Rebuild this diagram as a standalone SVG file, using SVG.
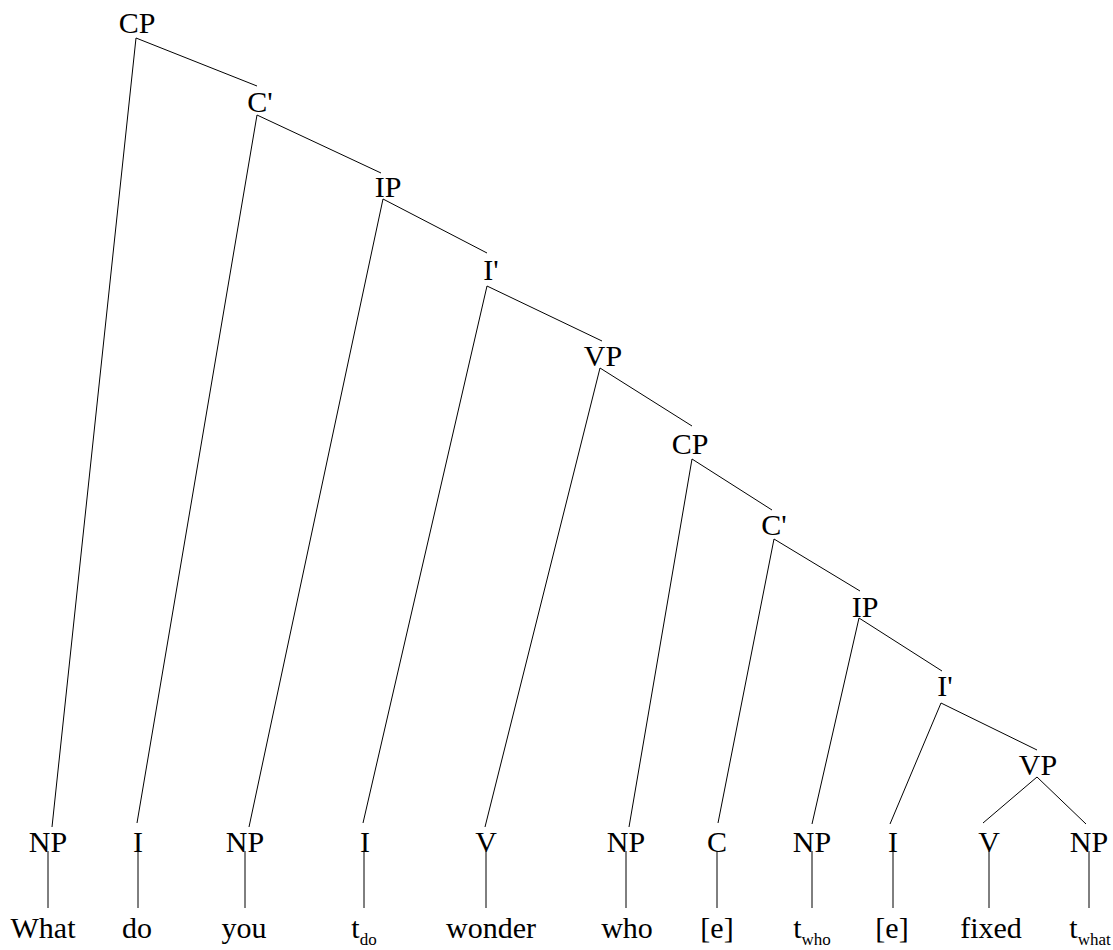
<svg xmlns="http://www.w3.org/2000/svg" width="1113" height="950" viewBox="0 0 1113 950">
<style>
.t{font-family:'Liberation Serif','DejaVu Serif',serif;font-size:30px;fill:#000;text-anchor:middle}
.sub{font-size:17px}
line{stroke:#000;stroke-width:1}
</style>
<rect width="1113" height="950" fill="#fff"/>
<g id="connectors">
<line x1="136" y1="38" x2="52" y2="827"/>
<line x1="136" y1="38" x2="257" y2="86"/>
<line x1="257" y1="115" x2="137" y2="823"/>
<line x1="257" y1="115" x2="381" y2="173"/>
<line x1="383" y1="199" x2="249" y2="827"/>
<line x1="383" y1="199" x2="487" y2="253"/>
<line x1="487" y1="286" x2="363" y2="823"/>
<line x1="487" y1="286" x2="602" y2="341"/>
<line x1="600" y1="368" x2="485" y2="827"/>
<line x1="600" y1="368" x2="692" y2="426"/>
<line x1="692" y1="459" x2="629" y2="827"/>
<line x1="692" y1="459" x2="772" y2="510"/>
<line x1="774" y1="539" x2="718" y2="823"/>
<line x1="774" y1="539" x2="860" y2="591"/>
<line x1="859" y1="618" x2="812" y2="824"/>
<line x1="859" y1="618" x2="942" y2="671"/>
<line x1="941" y1="703" x2="890" y2="824"/>
<line x1="941" y1="703" x2="1037" y2="750"/>
<line x1="1037" y1="777" x2="983" y2="823"/>
<line x1="1037" y1="777" x2="1086" y2="824"/>
<line x1="48" y1="851" x2="48" y2="908"/>
<line x1="138" y1="851" x2="138" y2="908"/>
<line x1="245" y1="851" x2="245" y2="908"/>
<line x1="364" y1="851" x2="364" y2="908"/>
<line x1="486" y1="851" x2="486" y2="908"/>
<line x1="626" y1="851" x2="626" y2="908"/>
<line x1="717" y1="851" x2="717" y2="908"/>
<line x1="812" y1="851" x2="812" y2="908"/>
<line x1="893" y1="851" x2="893" y2="908"/>
<line x1="989" y1="851" x2="989" y2="908"/>
<line x1="1089" y1="851" x2="1089" y2="908"/>
</g>
<g font-family="Liberation Serif, serif" font-size="30" text-anchor="middle" fill="#000">
<g id="n-cp1"><text class="t" x="137" y="33">CP</text></g>
<g id="n-cbar1"><text class="t" x="260" y="112">C'</text></g>
<g id="n-ip1"><text class="t" x="388" y="197">IP</text></g>
<g id="n-ibar1"><text class="t" x="491" y="280">I'</text></g>
<g id="n-vp1"><text class="t" x="603" y="366">VP</text></g>
<g id="n-cp2"><text class="t" x="690" y="454">CP</text></g>
<g id="n-cbar2"><text class="t" x="774" y="535">C'</text></g>
<g id="n-ip2"><text class="t" x="865" y="617">IP</text></g>
<g id="n-ibar2"><text class="t" x="945" y="696">I'</text></g>
<g id="n-vp2"><text class="t" x="1038" y="775">VP</text></g>
<g id="n-np1"><text class="t" x="48" y="852">NP</text></g>
<g id="n-i1"><text class="t" x="138" y="852">I</text></g>
<g id="n-np2"><text class="t" x="245" y="852">NP</text></g>
<g id="n-i2"><text class="t" x="365" y="852">I</text></g>
<g id="n-v1"><text class="t" x="486" y="852">V</text></g>
<g id="n-np3"><text class="t" x="626" y="852">NP</text></g>
<g id="n-c"><text class="t" x="717" y="852">C</text></g>
<g id="n-np4"><text class="t" x="812" y="852">NP</text></g>
<g id="n-i3"><text class="t" x="893" y="852">I</text></g>
<g id="n-v2"><text class="t" x="989" y="852">V</text></g>
<g id="n-np5"><text class="t" x="1089" y="852">NP</text></g>
<g id="w-what"><text class="t" x="43" y="938">What</text></g>
<g id="w-do"><text class="t" x="137" y="938">do</text></g>
<g id="w-you"><text class="t" x="244" y="938">you</text></g>
<g id="w-tdo"><text class="t" x="364" y="938">t<tspan class="sub" font-size="17" dy="7">do</tspan></text></g>
<g id="w-wonder"><text class="t" x="491" y="938">wonder</text></g>
<g id="w-who"><text class="t" x="627" y="938">who</text></g>
<g id="w-e1"><text class="t" x="717" y="938">[e]</text></g>
<g id="w-twho"><text class="t" x="812" y="938">t<tspan class="sub" font-size="17" dy="7">who</tspan></text></g>
<g id="w-e2"><text class="t" x="892" y="938">[e]</text></g>
<g id="w-fixed"><text class="t" x="991" y="938">fixed</text></g>
<g id="w-twhat"><text class="t" x="1090" y="938">t<tspan class="sub" font-size="17" dy="7">what</tspan></text></g>
</g>
</svg>
